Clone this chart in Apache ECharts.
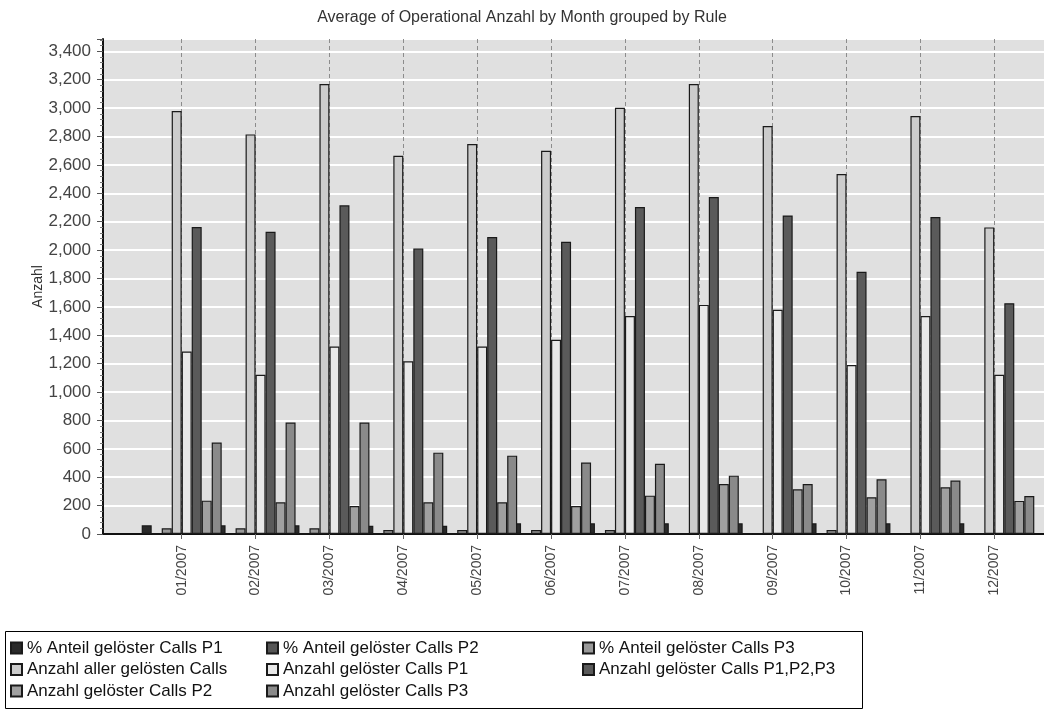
<!DOCTYPE html>
<html>
<head>
<meta charset="utf-8">
<script src="https://cdn.jsdelivr.net/npm/echarts@6/dist/echarts.min.js"></script>
<style>
html,body{margin:0;padding:0;background:#fff;}
#chart{width:1044px;height:711px;}
</style>
</head>
<body>
<div id="chart"></div>
<script>
const months = ['01/2007','02/2007','03/2007','04/2007','05/2007','06/2007','07/2007','08/2007','09/2007','10/2007','11/2007','12/2007'];
const seriesNames = ['% Anteil gelöster Calls P1','% Anteil gelöster Calls P2','% Anteil gelöster Calls P3','Anzahl aller gelösten Calls','Anzahl gelöster Calls P1','Anzahl gelöster Calls P1,P2,P3','Anzahl gelöster Calls P2','Anzahl gelöster Calls P3'];
const pctP1 = [61, 61, 61, 58, 58, 75, 75, 75, 75, 75, 75, 75];
const pctP2 = [0, 0, 0, 0, 0, 0, 0, 0, 0, 0, 0, 0];
const pctP3 = [40, 40, 40, 28, 28, 28, 28, 0, 0, 28, 0, 0];
const allCalls = [2980, 2815, 3170, 2665, 2747, 2700, 3003, 3170, 2874, 2536, 2945, 2160];
const callsP1 = [1285, 1121, 1321, 1217, 1321, 1368, 1535, 1614, 1579, 1191, 1535, 1121];
const callsP123 = [2162, 2129, 2315, 2012, 2092, 2059, 2303, 2374, 2244, 1847, 2233, 1626];
const callsP2 = [235, 223, 197, 223, 223, 197, 270, 352, 315, 259, 329, 233];
const callsP3 = [644, 785, 785, 573, 552, 503, 494, 411, 352, 385, 376, 268];
const seriesValues = [pctP1, pctP2, pctP3, allCalls, callsP1, callsP123, callsP2, callsP3];
const colors = ['#2a2a2a','#555555','#999999','#cccccc','#e8e8e8','#5a5a5a','#a0a0a0','#8a8a8a'];
const yMax = 3487;

const FONT = '"Liberation Sans", Arial, sans-serif';
const chart = echarts.init(document.getElementById('chart'), null, {renderer: 'canvas'});

const gTop = 39, gBottom = 711 - 534;

const series = seriesNames.map((name, i) => ({
  name: name,
  type: 'bar',
  xAxisIndex: 1,
  yAxisIndex: 1,
  data: seriesValues[i],
  barWidth: 10,
  barGap: '0%',
  clip: false,
  itemStyle: {color: colors[i], borderColor: '#1a1a1a', borderWidth: 1.2},
  emphasis: {disabled: true}
}));

function legendFor(names, left) {
  return {
    orient: 'vertical',
    left: left,
    top: 639,
    itemWidth: 11,
    itemHeight: 11,
    itemGap: 3.5,
    icon: 'rect',
    padding: 0,
    data: names,
    selectedMode: false,
    textStyle: {fontFamily: FONT, fontSize: 17, color: '#111', lineHeight: 18}
  };
}

chart.setOption({
  animation: false,
  title: {
    text: 'Average of Operational Anzahl by Month grouped by Rule',
    left: 'center',
    top: 5,
    textStyle: {fontFamily: FONT, fontSize: 16, fontWeight: 'normal', color: '#333'}
  },
  grid: [
    {left: 103, right: 0, top: gTop, bottom: gBottom, show: true, backgroundColor: '#e0e0e0', borderWidth: 0},
    {left: 181.7, right: 1044 - 994.3, top: gTop, bottom: gBottom, show: false}
  ],
  legend: [
    legendFor([seriesNames[0], seriesNames[3], seriesNames[6]], 10),
    legendFor([seriesNames[1], seriesNames[4], seriesNames[7]], 266),
    legendFor([seriesNames[2], seriesNames[5]], 582)
  ],
  graphic: [{
    type: 'rect',
    shape: {x: 5.5, y: 631.5, width: 857, height: 77},
    style: {fill: 'none', stroke: '#000', lineWidth: 1},
    silent: true
  }],
  xAxis: [
    {type: 'value', gridIndex: 0, min: 0, max: 1,
     axisLine: {show: true, lineStyle: {color: '#111', width: 2}},
     axisTick: {show: false}, axisLabel: {show: false}, splitLine: {show: false}},
    {type: 'category', gridIndex: 1, data: months, boundaryGap: false,
     axisLine: {show: false},
     axisTick: {show: true, length: 5, lineStyle: {color: '#666', width: 1}},
     axisLabel: {rotate: 90, margin: 11, fontFamily: FONT, fontSize: 14, color: '#444', interval: 0},
     splitLine: {show: true, lineStyle: {color: '#8c8c8c', type: [4, 3], width: 1}}}
  ],
  yAxis: [
    {type: 'value', gridIndex: 0, min: 0, max: yMax, interval: 200,
     name: 'Anzahl', nameLocation: 'middle', nameGap: 58, nameRotate: 90, nameMoveOverlap: false,
     nameTextStyle: {fontFamily: FONT, fontSize: 14, color: '#333'},
     axisLine: {show: true, lineStyle: {color: '#111', width: 2}},
     axisTick: {show: true, length: 6, lineStyle: {color: '#555'}},
     minorTick: {show: true, splitNumber: 5, length: 3, lineStyle: {color: '#777'}},
     axisLabel: {showMaxLabel: false, margin: 12, fontFamily: FONT, fontSize: 17, color: '#444',
       formatter: v => (v % 200 === 0 ? v.toLocaleString('en-US') : '')},
     splitLine: {show: true, lineStyle: {color: '#ffffff', width: 2}}},
    {type: 'value', gridIndex: 1, min: 0, max: yMax, show: false,
     splitLine: {show: false}}
  ],
  series: series
});
</script>
</body>
</html>
